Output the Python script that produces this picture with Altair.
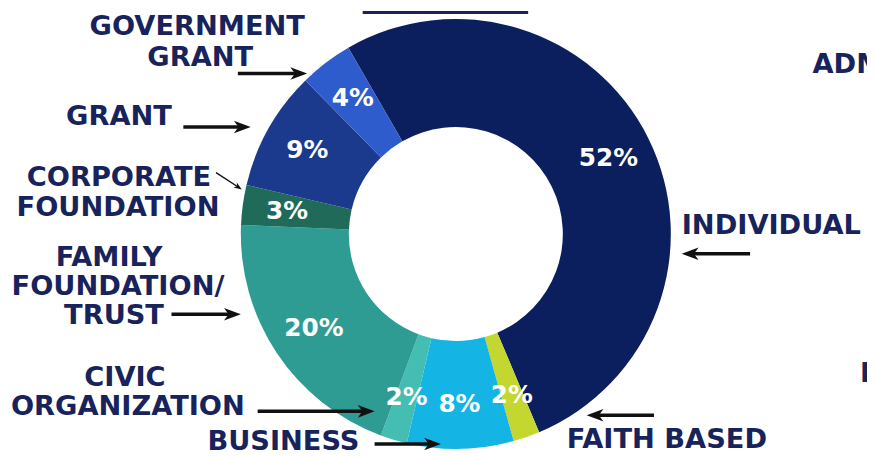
import math
import altair as alt
import pandas as pd

# ---------------- data ----------------
categories = ["INDIVIDUAL", "FAITH BASED", "BUSINESS", "CIVIC ORGANIZATION",
              "FAMILY FOUNDATION/TRUST", "CORPORATE FOUNDATION", "GRANT", "GOVERNMENT GRANT"]
values = [52, 2, 8, 2, 20, 3, 9, 4]
colors = ["#0b1f5e", "#c4d630", "#14b4e4", "#44bdb3", "#2f9c93", "#1f6a58", "#1b3a8e", "#2f5ccc"]

df = pd.DataFrame({"cat": categories, "value": values, "idx": list(range(len(values)))})

# ---------------- layout / style ----------------
W, H = 867, 449
CX, CY = 452, 226
R_OUT, R_IN, R_LAB = 217, 108, 172
START = math.radians(330)
NAVY = "#17235a"
FONT = "DejaVu Sans"
FS = 27.5

# annotation text lines (chart pixel coords)
center_lines = ["GOVERNMENT", "GRANT", "GRANT", "CORPORATE", "FOUNDATION", "FAMILY",
                "FOUNDATION/", "TRUST", "CIVIC", "ORGANIZATION", "BUSINESS"]
center_x = [191, 194, 112, 112, 111, 102, 111, 107, 118, 121, 278]
center_y = [25, 56, 116, 178, 208, 258, 288, 317, 379, 409, 444]

left_lines = ["INDIVIDUAL", "FAITH BASED", "ADMINISTRATION", "PROGRAM"]
left_x = [680, 564, 812, 860]
left_y = [226, 442, 64, 375]

# arrows: tip point, tail point, stroke width, head size
arrow_tip_x = [302, 245, 236, 235, 370, 437, 584, 680]
arrow_tip_y = [64, 118, 181, 307, 405, 438, 409, 246]
arrow_tail_x = [232, 177, 210, 165, 252, 370, 652, 749]
arrow_tail_y = [64, 118, 164, 307, 405, 438, 409, 246]
arrow_w = [3.5, 3.5, 1.4, 3.5, 3.5, 3.5, 3.5, 3.5]
arrow_head = [17, 17, 8, 17, 17, 17, 17, 17]

# ---------------- build tables ----------------
cdf = pd.DataFrame({"t": center_lines, "x": center_x, "y": center_y})
ldf = pd.DataFrame({"t": left_lines, "x": left_x, "y": left_y})

rows = []
for tx, ty, sx, sy, w, hs in zip(arrow_tip_x, arrow_tip_y, arrow_tail_x, arrow_tail_y, arrow_w, arrow_head):
    dx, dy = tx - sx, ty - sy
    L = math.hypot(dx, dy)
    ux, uy = dx / L, dy / L
    ang = math.degrees(math.atan2(dy, dx)) % 360
    rows.append({"x1": sx, "y1": sy, "x2": tx - ux * hs * 0.5, "y2": ty - uy * hs * 0.5,
                 "hx": tx - ux * hs / 2, "hy": ty - uy * hs / 2, "ang": ang,
                 "w": w, "s": hs * hs})
adf = pd.DataFrame(rows)

theta = alt.Theta("value:Q", stack=True,
                  scale=alt.Scale(domain=[0, sum(values)], range=[START, START + 2 * math.pi]))
order = alt.Order("idx:Q", sort="ascending")

arcs = alt.Chart(df).mark_arc(radius=R_OUT, innerRadius=R_IN).encode(
    theta=theta,
    order=order,
    color=alt.Color("cat:N", scale=alt.Scale(domain=categories, range=colors), legend=None),
    x=alt.value(CX), y=alt.value(CY),
)

pct = alt.Chart(df).transform_calculate(label="datum.value + '%'").mark_text(
    radius=R_LAB, font=FONT, fontSize=25, fontWeight="bold", color="white"
).encode(
    theta=theta, order=order, text="label:N",
    x=alt.value(CX), y=alt.value(CY),
)

txt_c = alt.Chart(cdf).mark_text(
    font=FONT, fontSize=FS, fontWeight="bold", color=NAVY, align="center", baseline="alphabetic"
).encode(x=alt.X("x:Q", scale=None), y=alt.Y("y:Q", scale=None), text="t:N")

txt_l = alt.Chart(ldf).mark_text(
    font=FONT, fontSize=FS, fontWeight="bold", color=NAVY, align="left", baseline="alphabetic"
).encode(x=alt.X("x:Q", scale=None), y=alt.Y("y:Q", scale=None), text="t:N")

title_df = pd.DataFrame({"t": ["REVENUE"], "x": [442], "y": [-4], "x1": [358], "x2": [525], "uy": [2.5]})
title_txt = alt.Chart(title_df).mark_text(
    font=FONT, fontSize=FS, fontWeight="bold", color=NAVY, align="center", baseline="alphabetic"
).encode(x=alt.X("x:Q", scale=None), y=alt.Y("y:Q", scale=None), text="t:N")
title_rule = alt.Chart(title_df).mark_rule(color=NAVY, strokeWidth=3).encode(
    x=alt.X("x1:Q", scale=None), x2="x2:Q", y=alt.Y("uy:Q", scale=None))

lines = alt.Chart(adf).mark_rule(color="#111111").encode(
    x=alt.X("x1:Q", scale=None), x2="x2:Q",
    y=alt.Y("y1:Q", scale=None), y2="y2:Q",
    strokeWidth=alt.StrokeWidth("w:Q", scale=None),
)

heads = alt.Chart(adf).mark_point(
    shape="M1,0 L-1,-0.75 L-0.45,0 L-1,0.75 Z", filled=True, color="#111111", opacity=1, strokeWidth=0
).encode(
    x=alt.X("hx:Q", scale=None), y=alt.Y("hy:Q", scale=None),
    angle=alt.Angle("ang:Q", scale=None),
    size=alt.Size("s:Q", scale=None),
)

chart = alt.layer(arcs, pct, txt_c, txt_l, title_txt, title_rule, lines, heads).properties(
    width=W, height=H, autosize=alt.AutoSizeParams(type="none"), padding=0, background="white"
).configure_view(strokeWidth=0)

chart.save("out.html", embed_options={"renderer": "svg", "actions": False})
